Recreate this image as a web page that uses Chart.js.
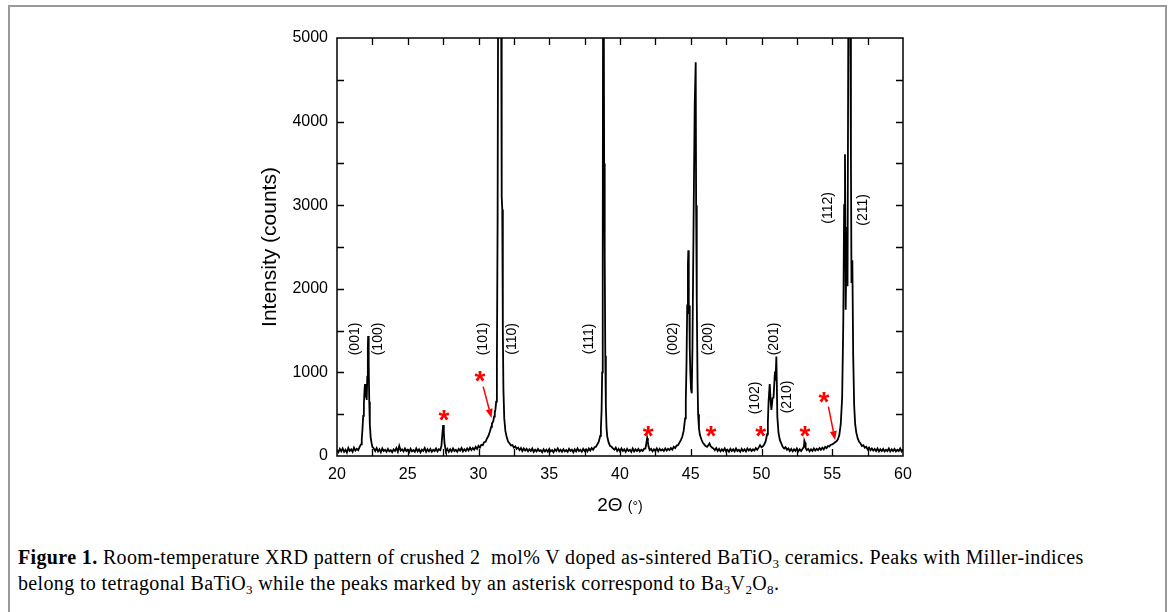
<!DOCTYPE html>
<html lang="en">
<head>
<meta charset="UTF-8">
<title>XRD pattern - 2 mol% V doped BaTiO3</title>
<script src="https://cdn.jsdelivr.net/npm/chart.js"></script>
<style>
  html, body { margin: 0; background: #fff; overflow: hidden; }
  #frame { position: absolute; left: 8px; top: 5px; width: 1155px; height: 640px; border: 2px solid #999; border-bottom: none; }
  #xrd { position: absolute; left: 0; top: 0; }
  #caption { position: absolute; left: 18px; top: 544px; font-family: "Liberation Serif", "Times New Roman", serif; font-size: 20px; letter-spacing: 0.36px; line-height: 26px; color: #000; white-space: nowrap; }
  #caption sub { font-size: 13px; vertical-align: -4px; line-height: 0; }
</style>
</head>
<body>
<div id="frame"></div>
<canvas id="xrd" width="1171" height="540"></canvas>
<div id="caption"><b>Figure 1.</b> Room-temperature XRD pattern of crushed 2&nbsp; mol% V doped as-sintered BaTiO<sub>3</sub> ceramics. Peaks with Miller-indices<br>belong to tetragonal BaTiO<sub>3</sub> while the peaks marked by an asterisk correspond to Ba<sub>3</sub>V<sub>2</sub>O<sub>8</sub>.</div>

<script>
// measured scan: [2theta (deg), intensity (counts)]
const xrdScan = [
  [20.0,70],[20.1,45],[20.2,85],[20.3,55],[20.4,90],[20.5,50],[20.6,75],[20.7,40],[20.8,95],[20.9,60],
  [21.0,80],[21.1,50],[21.2,100],[21.3,65],[21.4,85],[21.5,70],[21.6,110],[21.7,140],[21.75,200],[21.8,320],
  [21.85,480],[21.9,620],[21.95,800],[21.98,861],[22.02,700],[22.06,760],[22.1,670],[22.14,950],[22.18,1300],[22.2,1435],
  [22.24,1100],[22.28,650],[22.32,380],[22.38,220],[22.45,150],[22.5,110],[22.6,90],[22.7,60],[22.8,95],[22.9,55],
  [23.0,80],[23.1,45],[23.2,90],[23.3,60],[23.4,75],[23.5,50],[23.6,85],[23.7,55],[23.8,70],[23.9,45],
  [24.0,80],[24.1,60],[24.2,95],[24.3,50],[24.4,120],[24.5,65],[24.6,80],[24.7,55],[24.8,90],[24.9,60],
  [25.0,75],[25.1,45],[25.2,85],[25.3,55],[25.4,70],[25.5,50],[25.6,90],[25.7,55],[25.8,80],[25.9,45],
  [26.0,75],[26.1,60],[26.2,95],[26.3,50],[26.4,80],[26.5,55],[26.6,85],[26.7,50],[26.8,75],[26.9,60],
  [27.0,90],[27.1,55],[27.2,80],[27.3,70],[27.38,120],[27.44,250],[27.5,370],[27.55,280],[27.6,150],[27.66,90],
  [27.7,60],[27.8,85],[27.9,50],[28.0,80],[28.1,55],[28.2,90],[28.3,60],[28.4,75],[28.5,50],[28.6,85],
  [28.7,65],[28.8,95],[28.9,55],[29.0,80],[29.1,60],[29.2,90],[29.3,65],[29.4,100],[29.5,70],[29.6,95],
  [29.7,75],[29.8,110],[29.9,85],[30.0,120],[30.1,100],[30.2,135],[30.3,130],[30.4,165],[30.5,170],[30.6,210],
  [30.7,240],[30.8,290],[30.9,350],[30.95,390],[31.0,400],[31.05,420],[31.1,470],[31.15,520],[31.2,560],[31.25,650],
  [31.3,1100],[31.35,2800],[31.4,6500],[31.45,9000],[31.5,9800],[31.55,8000],[31.6,5500],[31.64,3100],[31.68,2950],[31.72,1500],
  [31.76,800],[31.82,450],[31.9,300],[32.0,220],[32.1,170],[32.2,150],[32.3,125],[32.4,130],[32.5,100],[32.6,115],
  [32.7,85],[32.8,100],[32.9,70],[33.0,95],[33.1,60],[33.2,90],[33.3,65],[33.4,85],[33.5,55],[33.6,80],
  [33.7,60],[33.8,90],[33.9,50],[34.0,75],[34.1,55],[34.2,85],[34.3,60],[34.4,70],[34.5,45],[34.6,80],
  [34.7,55],[34.8,75],[34.9,50],[35.0,85],[35.1,55],[35.2,70],[35.3,45],[35.4,80],[35.5,60],[35.6,90],
  [35.7,55],[35.8,75],[35.9,50],[36.0,80],[36.1,55],[36.2,70],[36.3,50],[36.4,85],[36.5,60],[36.6,75],
  [36.7,45],[36.8,80],[36.9,55],[37.0,90],[37.1,60],[37.2,75],[37.3,50],[37.4,85],[37.5,60],[37.6,80],
  [37.7,55],[37.8,90],[37.9,65],[38.0,95],[38.1,75],[38.2,105],[38.3,110],[38.4,140],[38.5,170],[38.6,240],
  [38.65,330],[38.7,550],[38.74,1000],[38.78,2500],[38.8,5000],[38.83,7500],[38.86,6000],[38.88,3500],[38.91,3000],[38.93,2400],
  [38.96,1200],[39.0,600],[39.05,330],[39.1,230],[39.2,160],[39.3,120],[39.4,110],[39.5,90],[39.6,75],[39.7,100],
  [39.8,60],[39.9,85],[40.0,55],[40.1,90],[40.2,60],[40.3,80],[40.4,50],[40.5,85],[40.6,60],[40.7,75],
  [40.8,50],[40.9,90],[41.0,55],[41.1,80],[41.2,60],[41.3,85],[41.4,55],[41.5,75],[41.6,60],[41.7,85],
  [41.8,90],[41.86,150],[41.92,215],[41.97,170],[42.02,110],[42.1,70],[42.2,85],[42.3,55],[42.4,80],[42.5,60],
  [42.6,90],[42.7,55],[42.8,85],[42.9,65],[43.0,80],[43.1,60],[43.2,90],[43.3,65],[43.4,85],[43.5,70],
  [43.6,95],[43.7,75],[43.8,110],[43.9,95],[44.0,125],[44.1,130],[44.2,160],[44.3,190],[44.4,230],[44.5,300],
  [44.6,450],[44.65,650],[44.7,1100],[44.75,1800],[44.8,2300],[44.83,2460],[44.86,1700],[44.9,1800],[44.93,1290],[44.97,1000],
  [45.02,800],[45.07,750],[45.12,1300],[45.2,2800],[45.28,4200],[45.35,4710],[45.38,3000],[45.41,2640],[45.44,1870],[45.48,900],
  [45.52,500],[45.58,330],[45.65,250],[45.75,200],[45.85,160],[45.95,140],[46.05,120],[46.15,110],[46.25,130],[46.32,150],
  [46.4,120],[46.5,100],[46.6,90],[46.7,70],[46.8,95],[46.9,60],[47.0,85],[47.1,55],[47.2,80],[47.3,60],
  [47.4,90],[47.5,55],[47.6,75],[47.7,50],[47.8,85],[47.9,60],[48.0,80],[48.1,55],[48.2,90],[48.3,60],
  [48.4,75],[48.5,50],[48.6,85],[48.7,60],[48.8,80],[48.9,55],[49.0,90],[49.1,65],[49.2,85],[49.3,60],
  [49.4,80],[49.5,65],[49.6,95],[49.7,75],[49.8,100],[49.9,130],[50.0,105],[50.1,115],[50.2,140],[50.3,180],
  [50.4,260],[50.45,400],[50.5,650],[50.58,860],[50.65,650],[50.7,550],[50.78,690],[50.85,700],[50.95,1010],[50.99,900],
  [51.05,1190],[51.12,470],[51.2,280],[51.3,190],[51.4,150],[51.5,110],[51.6,90],[51.7,105],[51.8,75],[51.9,90],
  [52.0,60],[52.1,85],[52.2,55],[52.3,80],[52.4,60],[52.5,90],[52.6,55],[52.7,80],[52.8,60],[52.9,85],
  [53.0,110],[53.03,183],[53.08,160],[53.12,95],[53.2,70],[53.3,85],[53.4,55],[53.5,80],[53.6,60],[53.7,90],
  [53.8,65],[53.9,85],[54.0,70],[54.1,95],[54.2,75],[54.3,100],[54.4,80],[54.5,110],[54.6,95],[54.7,120],
  [54.8,115],[54.9,135],[55.0,140],[55.1,150],[55.2,165],[55.3,175],[55.4,200],[55.5,250],[55.6,380],[55.7,700],
  [55.78,1600],[55.84,3000],[55.9,3610],[55.95,1750],[56.02,2740],[56.08,2030],[56.14,5500],[56.2,8000],[56.26,5500],[56.32,3560],
  [56.36,2070],[56.42,2340],[56.48,1200],[56.55,600],[56.62,380],[56.7,280],[56.8,210],[56.9,170],[57.0,150],[57.1,120],
  [57.2,130],[57.3,100],[57.4,110],[57.5,80],[57.6,100],[57.7,70],[57.8,90],[57.9,65],[58.0,85],[58.1,60],
  [58.2,90],[58.3,55],[58.4,80],[58.5,60],[58.6,85],[58.7,55],[58.8,75],[58.9,60],[59.0,90],[59.1,55],
  [59.2,80],[59.3,60],[59.4,85],[59.5,55],[59.6,75],[59.7,60],[59.8,90],[59.9,55],[60.0,80]
];

// axis ranges and tick marks
const xRange = [20, 60];
const yRange = [0, 5000];
const xTickMarks = [22.5, 25, 27.5, 30, 32.5, 35, 37.5, 40, 42.5, 45, 47.5, 50, 52.5, 55, 57.5];
const yTickMarks = [500, 1000, 1500, 2000, 2500, 3000, 3500, 4000, 4500];

// Miller indices of tetragonal BaTiO3 and where they are written (2theta, counts)
const millerIndex = ['(001)', '(100)', '(101)', '(110)', '(111)', '(002)', '(200)', '(102)', '(201)', '(210)', '(112)', '(211)'];
const millerAt2Theta = [21.27, 22.88, 30.32, 32.35, 37.81, 43.75, 46.22, 49.54, 50.88, 51.80, 54.70, 57.17];
const millerAtCounts = [1400, 1400, 1400, 1400, 1400, 1400, 1400, 694, 1400, 706, 2967, 2943];

// Ba3V2O8 reflections marked with an asterisk
const starAt2Theta = [27.56, 30.11, 42.0, 46.43, 49.94, 53.07, 54.42];
const starAtCounts = [490, 945, 290, 290, 290, 290, 697];
// arrows from two of the asterisks to weak shoulders: [x0, y0, x1, y1]
const starArrows = [[30.33, 830, 30.92, 455], [54.73, 590, 55.2, 190]];

const SANS = '"Liberation Sans", Arial, Helvetica, sans-serif';
const TICK = 7;

const decorations = {
    id: 'decorations',
    afterDraw(chart) {
        const { ctx, chartArea: a, scales: { x, y } } = chart;
        ctx.save();

        // box round the plot
        ctx.strokeStyle = '#000';
        ctx.lineWidth = 1.5;
        ctx.strokeRect(a.left, a.top, a.right - a.left, a.bottom - a.top);

        // inward ticks on all four sides
        ctx.lineWidth = 1.3;
        ctx.beginPath();
        xTickMarks.forEach(v => {
            const px = Math.round(x.getPixelForValue(v)) + 0.5;
            ctx.moveTo(px, a.bottom); ctx.lineTo(px, a.bottom - TICK);
            ctx.moveTo(px, a.top); ctx.lineTo(px, a.top + TICK);
        });
        yTickMarks.forEach(v => {
            const py = Math.round(y.getPixelForValue(v)) + 0.5;
            ctx.moveTo(a.left, py); ctx.lineTo(a.left + TICK, py);
            ctx.moveTo(a.right, py); ctx.lineTo(a.right - TICK, py);
        });
        ctx.stroke();

        // Miller indices, written vertically
        ctx.fillStyle = '#000';
        ctx.font = '14px ' + SANS;
        ctx.textAlign = 'center';
        ctx.textBaseline = 'middle';
        millerIndex.forEach((t, i) => {
            ctx.save();
            ctx.translate(x.getPixelForValue(millerAt2Theta[i]), y.getPixelForValue(millerAtCounts[i]));
            ctx.rotate(-Math.PI / 2);
            ctx.fillText(t, 0, 0);
            ctx.restore();
        });

        // red asterisks
        ctx.fillStyle = '#ff0000';
        ctx.font = 'bold 28px ' + SANS;
        ctx.textAlign = 'left';
        ctx.textBaseline = 'alphabetic';
        const m = ctx.measureText('*');
        const dx = (m.actualBoundingBoxLeft - m.actualBoundingBoxRight) / 2;
        const dy = (m.actualBoundingBoxAscent - m.actualBoundingBoxDescent) / 2;
        starAt2Theta.forEach((v, i) => {
            ctx.fillText('*', x.getPixelForValue(v) + dx, y.getPixelForValue(starAtCounts[i]) + dy);
        });

        // arrows
        ctx.strokeStyle = '#ff0000';
        ctx.lineWidth = 1.5;
        starArrows.forEach(([x0, y0, x1, y1]) => {
            const p0 = [x.getPixelForValue(x0), y.getPixelForValue(y0)];
            const p1 = [x.getPixelForValue(x1), y.getPixelForValue(y1)];
            const ang = Math.atan2(p1[1] - p0[1], p1[0] - p0[0]);
            const len = 9, half = 3.5;
            const bx = p1[0] - len * Math.cos(ang), by = p1[1] - len * Math.sin(ang);
            ctx.beginPath();
            ctx.moveTo(p0[0], p0[1]);
            ctx.lineTo(bx, by);
            ctx.stroke();
            ctx.beginPath();
            ctx.moveTo(p1[0], p1[1]);
            ctx.lineTo(bx + half * Math.sin(ang), by - half * Math.cos(ang));
            ctx.lineTo(bx - half * Math.sin(ang), by + half * Math.cos(ang));
            ctx.closePath();
            ctx.fill();
        });

        // x axis title: 2Θ (°)
        ctx.fillStyle = '#000';
        ctx.textAlign = 'left';
        ctx.textBaseline = 'alphabetic';
        const big = '19px ' + SANS, small = '14px ' + SANS;
        ctx.font = big;
        const w1 = ctx.measureText('2\u0398 ').width;
        ctx.font = small;
        const w2 = ctx.measureText('(\u00b0)').width;
        const cx = (a.left + a.right) / 2 - (w1 + w2) / 2;
        const base = a.bottom + 55;
        ctx.font = big;
        ctx.fillText('2\u0398 ', cx, base);
        ctx.font = small;
        ctx.fillText('(\u00b0)', cx + w1, base);

        ctx.restore();
    }
};

const ctx = document.getElementById('xrd').getContext('2d');

new Chart(ctx, {
    type: 'scatter',
    data: {
        datasets: [{
            data: xrdScan.map(([t, c]) => ({ x: t, y: c })),
            showLine: true,
            borderColor: '#000',
            borderWidth: 1.8,
            pointRadius: 0,
            tension: 0
        }]
    },
    options: {
        responsive: false,
        animation: false,
        layout: { padding: { left: 254, right: 268, top: 38, bottom: 54 } },
        plugins: {
            legend: { display: false },
            tooltip: { enabled: false }
        },
        scales: {
            x: {
                type: 'linear',
                min: xRange[0],
                max: xRange[1],
                afterFit: s => { s.height = 30; },
                grid: { display: false, drawTicks: false },
                border: { display: false },
                ticks: { stepSize: 5, color: '#000', padding: 9, font: { family: SANS, size: 16 } }
            },
            y: {
                min: yRange[0],
                max: yRange[1],
                afterFit: s => { s.width = 83; },
                grid: { display: false, drawTicks: false },
                border: { display: false },
                ticks: { stepSize: 1000, color: '#000', padding: 9, font: { family: SANS, size: 16 }, callback: v => String(v) },
                title: { display: true, text: 'Intensity (counts)', color: '#000', font: { family: SANS, size: 21 } }
            }
        }
    },
    plugins: [decorations]
});
</script>
</body>
</html>
